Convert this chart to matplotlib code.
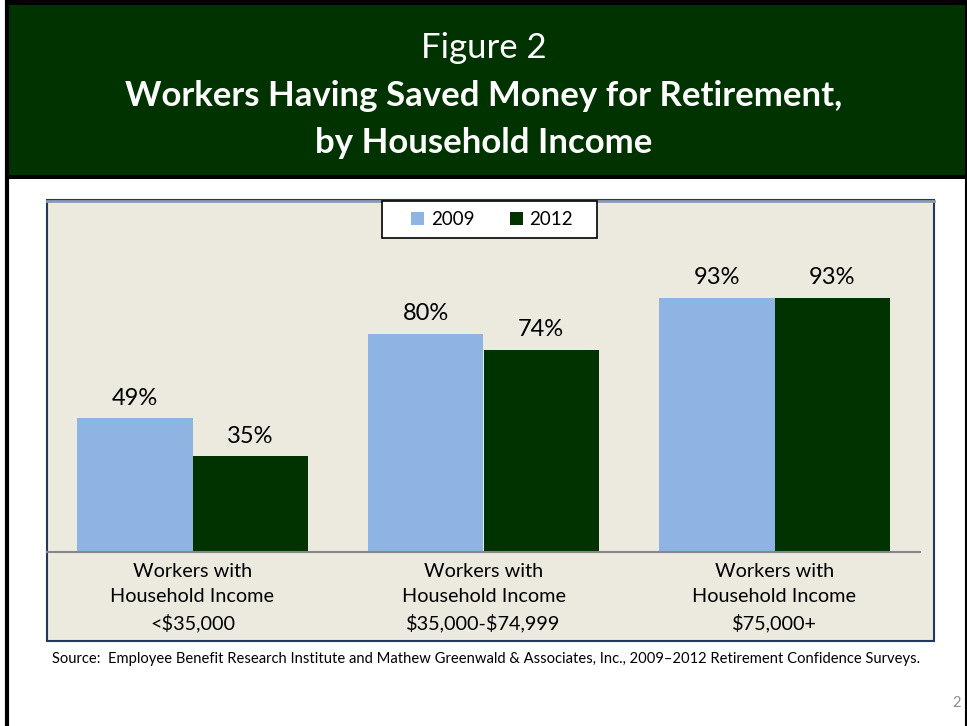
import matplotlib
matplotlib.use("Agg")
import matplotlib.pyplot as plt
from matplotlib.patches import Rectangle
from matplotlib.lines import Line2D
import numpy as np

plt.rcParams['font.family'] = ['Lato', 'DejaVu Sans']
plt.rcParams['text.parse_math'] = False

categories = ["Workers with\nHousehold Income\n<$35,000",
              "Workers with\nHousehold Income\n$35,000-$74,999",
              "Workers with\nHousehold Income\n$75,000+"]
series_names = ["2009", "2012"]
values_2009 = [49, 80, 93]
values_2012 = [35, 74, 93]

C_BLUE = "#8EB4E3"
C_GREEN = "#003300"
C_BG = "#ECE9DF"

W, H = 967, 726
fig = plt.figure(figsize=(W / 100, H / 100), dpi=100)
fig.patch.set_facecolor("white")

def fx(px):
    return px / W

def fy(py):
    return 1 - py / H

# title band
fig.patches.append(Rectangle((fx(5), fy(179)), 1 - fx(5), 179 / H,
                             transform=fig.transFigure, facecolor="black", edgecolor="none", zorder=0))
fig.patches.append(Rectangle((fx(8), fy(175)), fx(965) - fx(8), (175 - 5) / H,
                             transform=fig.transFigure, facecolor=C_GREEN, edgecolor="none", zorder=1))
# left and right page lines
fig.add_artist(Line2D([fx(6.5), fx(6.5)], [0, 1], transform=fig.transFigure, color="black", lw=3, zorder=2))
fig.add_artist(Line2D([fx(966), fx(966)], [0, 1], transform=fig.transFigure, color="black", lw=1.5, zorder=2))

fig.text(0.5, fy(48), "Figure 2", ha="center", va="center", color="white", fontsize=25)
fig.text(0.5, fy(96), "Workers Having Saved Money for Retirement,", ha="center", va="center",
         color="white", fontsize=25, fontweight="bold")
fig.text(0.5, fy(143), "by Household Income", ha="center", va="center",
         color="white", fontsize=25, fontweight="bold")

# chart box
fig.patches.append(Rectangle((fx(47), fy(641)), fx(934) - fx(47), (641 - 200) / H,
                             transform=fig.transFigure, facecolor=C_BG, edgecolor="#1F3864",
                             linewidth=1.5, zorder=1))
fig.add_artist(Line2D([fx(47), fx(934)], [fy(201), fy(201)], transform=fig.transFigure,
                      color="#8C9BB0", lw=2, zorder=3))

# axes
ax = fig.add_axes([fx(47), fy(552), fx(920) - fx(47), (552 - 201) / H])
ax.set_facecolor("none")
ax.set_zorder(4)
x = np.arange(len(categories))
bw = 0.397
b1 = ax.bar(x - bw / 2, values_2009, bw, color=C_BLUE, label=series_names[0])
b2 = ax.bar(x + bw / 2, values_2012, bw, color=C_GREEN, label=series_names[1])
ax.set_xlim(-0.5, 2.5)
ax.set_ylim(0, 128.6)
for s in ["top", "right", "left"]:
    ax.spines[s].set_visible(False)
ax.spines["bottom"].set_color("#868686")
ax.spines["bottom"].set_linewidth(1.5)
ax.set_yticks([])
ax.set_xticks(x)
ax.set_xticklabels(categories, fontsize=14.3, linespacing=1.56)
ax.tick_params(axis="x", length=0, pad=8)

for bars, vals in ((b1, values_2009), (b2, values_2012)):
    for rect, v in zip(bars, vals):
        ax.annotate(f"{v}%", (rect.get_x() + rect.get_width() / 2, v), xytext=(0, 7),
                    textcoords="offset points", ha="center", va="bottom", fontsize=17)

# legend frame and legend
fig.patches.append(Rectangle((fx(382), fy(238)), fx(597) - fx(382), (238 - 201) / H,
                             transform=fig.transFigure, facecolor="white", edgecolor="black",
                             linewidth=1.2, zorder=5))
leg = fig.legend(handles=[b1, b2], labels=series_names, loc="center",
                 bbox_to_anchor=(fx(492), fy(219.5)), ncol=2, frameon=False,
                 fontsize=13.5, handlelength=0.7, handleheight=0.7,
                 handletextpad=0.35, columnspacing=1.9, borderpad=0.3)
leg.set_zorder(6)

fig.text(fx(486), fy(659), "Source:  Employee Benefit Research Institute and Mathew Greenwald & Associates, Inc., 2009\u20132012 Retirement Confidence Surveys.",
         ha="center", va="center", fontsize=10.6)
fig.text(fx(957), fy(703), "2", ha="center", va="center", fontsize=10.5, color="#8C8C8C")

fig.savefig("out.png", dpi=100)
